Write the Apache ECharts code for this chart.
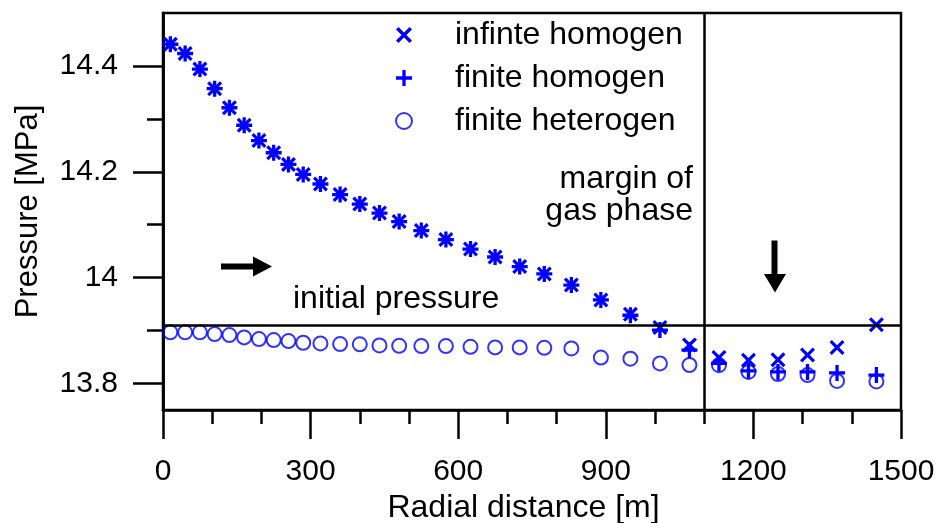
<!DOCTYPE html>
<html>
<head>
<meta charset="utf-8">
<script src="https://cdn.jsdelivr.net/npm/echarts@6/dist/echarts.min.js"></script>
<style>
html,body{margin:0;padding:0;background:#fff;}
#c{width:937px;height:523px;}
</style>
</head>
<body>
<div id="c"></div>
<script>
// ---- data ----
const radialDistance = [15,45,75,105,135,165,195,225,255,285,320,360,400,440,480,525,575,625,675,725,775,830,890,950,1010,1070,1130,1190,1250,1310,1370,1450];
const infiniteHomogen = [14.441,14.4235,14.394,14.357,14.321,14.288,14.259,14.236,14.214,14.195,14.177,14.157,14.139,14.122,14.106,14.089,14.072,14.054,14.039,14.021,14.007,13.986,13.958,13.931,13.906,13.873,13.849,13.844,13.845,13.854,13.868,13.911];
const finiteHomogen = [14.441,14.4235,14.394,14.357,14.321,14.288,14.259,14.236,14.214,14.195,14.177,14.157,14.139,14.122,14.106,14.089,14.072,14.054,14.039,14.021,14.007,13.986,13.958,13.929,13.901,13.863,13.838,13.824,13.822,13.822,13.820,13.816];
const finiteHeterogen = [13.8967,13.8967,13.8967,13.8935,13.8916,13.8872,13.884,13.8821,13.8802,13.877,13.8758,13.8745,13.874,13.872,13.8713,13.8707,13.8707,13.8694,13.8683,13.8683,13.8675,13.8664,13.849,13.847,13.838,13.835,13.8347,13.822,13.818,13.816,13.805,13.804];
const seriesNames = ['infinte homogen','finite homogen','finite heterogen'];
const yMajorTicks = [13.8,14.0,14.2,14.4];
const yMinorTicks = [13.9,14.1,14.3];
const initialPressure = 13.912;
const gasMargin = 1100;

const FONT = '"Liberation Sans", Arial, sans-serif';
const BLUE = '#0000ff';
const pair = (xs, ys) => xs.map((x, i) => [x, ys[i]]);

const X_PATH = 'path://M0,-2.12 L4.88,-7 L7,-4.88 L2.12,0 L7,4.88 L4.88,7 L0,2.12 L-4.88,7 L-7,4.88 L-2.12,0 L-7,-4.88 L-4.88,-7 Z';
const PLUS_PATH = 'path://M-1.45,-7 L1.45,-7 L1.45,-1.45 L7,-1.45 L7,1.45 L1.45,1.45 L1.45,7 L-1.45,7 L-1.45,1.45 L-7,1.45 L-7,-1.45 L-1.45,-1.45 Z';

const chart = echarts.init(document.getElementById('c'), null, {renderer: 'canvas'});
const axisBlack = {color: '#000', width: 2.5};
chart.setOption({
  animation: false,
  backgroundColor: '#fff',
  textStyle: {fontFamily: FONT},
  grid: {left: 163, right: 36, top: 13, bottom: 113, show: true, borderColor: '#000', borderWidth: 2.5,
         backgroundColor: 'transparent', containLabel: false, outerBoundsMode: 'none'},
  legend: {
    orient: 'vertical', left: 390, top: 14, itemWidth: 16, itemHeight: 16, itemGap: 11,
    data: seriesNames,
    textStyle: {fontSize: 32, color: '#000', fontFamily: FONT, lineHeight: 31, padding: [0,0,0,38]}
  },
  xAxis: {
    type: 'value', min: 0, max: 1500, interval: 300,
    name: 'Radial distance [m]', nameLocation: 'middle', nameGap: 80,
    nameTextStyle: {fontSize: 32, color: '#000', fontFamily: FONT, padding: [0, 17, 0, 0]},
    axisLine: {show: true, onZero: false, lineStyle: axisBlack},
    axisTick: {show: true, inside: false, length: 29, lineStyle: axisBlack},
    minorTick: {show: true, splitNumber: 3, length: 14, lineStyle: axisBlack},
    axisLabel: {fontSize: 30, color: '#000', margin: 47, fontFamily: FONT, formatter: v => String(v)},
    splitLine: {show: false}
  },
  yAxis: [{
    type: 'value', min: 13.75, max: 14.5,
    name: 'Pressure [MPa]', nameLocation: 'middle', nameGap: 119,
    nameTextStyle: {fontSize: 31, color: '#000', fontFamily: FONT},
    axisLine: {show: true, onZero: false, lineStyle: axisBlack},
    axisTick: {show: true, length: 30, lineStyle: axisBlack, customValues: yMajorTicks},
    axisLabel: {fontSize: 30, color: '#000', margin: 45, fontFamily: FONT, customValues: yMajorTicks, formatter: v => String(v)},
    splitLine: {show: false}
  }, {
    type: 'value', min: 13.75, max: 14.5, position: 'left',
    axisLine: {show: true, onZero: false, lineStyle: axisBlack},
    axisTick: {show: true, length: 16, lineStyle: axisBlack, customValues: yMinorTicks},
    axisLabel: {show: false, customValues: yMinorTicks},
    splitLine: {show: false}
  }],
  series: [
    {
      name: seriesNames[2], type: 'scatter', data: pair(radialDistance, finiteHeterogen),
      symbol: 'circle', symbolSize: 14,
      itemStyle: {color: 'rgba(0,0,0,0)', borderColor: BLUE, borderWidth: 2},
      markLine: {
        silent: true, symbol: ['none','none'], label: {show: false},
        lineStyle: {color: '#000', width: 2.5, type: 'solid'},
        emphasis: {disabled: true},
        data: [{yAxis: initialPressure}, {xAxis: gasMargin}]
      }
    },
    {
      name: seriesNames[1], type: 'scatter', data: pair(radialDistance, finiteHomogen),
      symbol: PLUS_PATH, symbolSize: 16, itemStyle: {color: BLUE, opacity: 1}
    },
    {
      name: seriesNames[0], type: 'scatter', data: pair(radialDistance, infiniteHomogen),
      symbol: X_PATH, symbolSize: 15, itemStyle: {color: BLUE, opacity: 1}
    }
  ],
  graphic: [
    {type: 'text', style: {text: 'margin of', x: 693, y: 179, align: 'right', verticalAlign: 'middle', font: '32px ' + FONT, fill: '#000'}},
    {type: 'text', style: {text: 'gas phase', x: 693, y: 211, align: 'right', verticalAlign: 'middle', font: '32px ' + FONT, fill: '#000'}},
    {type: 'text', style: {text: 'initial pressure', x: 293, y: 299, align: 'left', verticalAlign: 'middle', font: '32px ' + FONT, fill: '#000'}},
    {type: 'rect', shape: {x: 221, y: 263.5, width: 34, height: 6}, style: {fill: '#000'}},
    {type: 'polygon', shape: {points: [[253,256.5],[272,266.5],[253,276.5]]}, style: {fill: '#000'}},
    {type: 'rect', shape: {x: 771.5, y: 240.5, width: 6, height: 35}, style: {fill: '#000'}},
    {type: 'polygon', shape: {points: [[764,274],[786,274],[775,292.5]]}, style: {fill: '#000'}}
  ]
});
</script>
</body>
</html>
